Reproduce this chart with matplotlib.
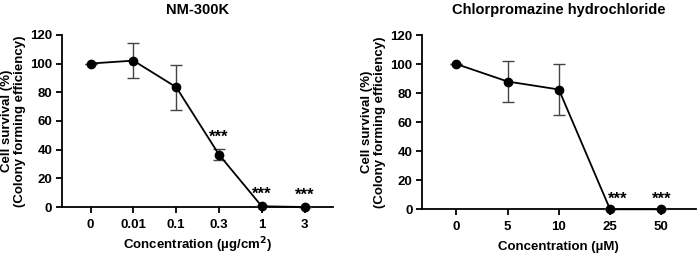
import matplotlib
matplotlib.use("Agg")
import matplotlib.pyplot as plt

plt.rcParams['font.family'] = ['Liberation Sans', 'DejaVu Sans']
plt.rcParams['font.weight'] = 'bold'

left_title = "NM-300K"
left_labels = ["0", "0.01", "0.1", "0.3", "1", "3"]
left_values = [100, 102, 83.5, 36.5, 0.5, 0]
left_errors = [0, 12, 15.8, 4, 0, 0]
left_sig = [None, None, None, "***", "***", "***"]

right_title = "Chlorpromazine hydrochloride"
right_labels = ["0", "5", "10", "25", "50"]
right_values = [100, 88, 82.5, 0, 0]
right_errors = [0, 14, 17.5, 0, 0]
right_sig = [None, None, None, "***", "***"]

ylabel = "Cell survival (%)\n(Colony forming efficiency)"
left_xlabel = "Concentration (µg/cm$^{\\mathbf{2}}$)"
right_xlabel = "Concentration (µM)"

fig = plt.figure(figsize=(6.99, 2.54), dpi=100)
ax1 = fig.add_axes([0.0887, 0.185, 0.388, 0.678])
ax2 = fig.add_axes([0.604, 0.176, 0.391, 0.686])

def draw(ax, title, labels, values, errors, sig, xlabel, star_dx, star_off,
         xlabelpad):
    x = list(range(len(labels)))
    ax.errorbar(x, values, yerr=errors, color='black', ecolor='#444444',
                elinewidth=1.0, capsize=4, capthick=1.0, lw=1.3,
                marker='o', ms=6, zorder=3, clip_on=False)
    for xi, v, e, s, dx in zip(x, values, errors, sig, star_dx):
        if s:
            ax.text(xi + dx, v + e + star_off - 2.6, s, ha='center',
                    va='center', fontsize=12, fontweight='bold')
    ax.set_xlim(-0.67, len(labels) - 1 + 0.67)
    ax.set_ylim(0, 120)
    ax.set_yticks(range(0, 121, 20))
    ax.set_xticks(x)
    ax.set_xticklabels(labels)
    for side in ['top', 'right']:
        ax.spines[side].set_visible(False)
    for side in ['left', 'bottom']:
        ax.spines[side].set_linewidth(1.3)
    ax.tick_params(axis='both', labelsize=9.5, width=1.3, length=4.5, pad=2.5)
    ax.tick_params(axis='x', pad=4)
    for lab in ax.get_xticklabels() + ax.get_yticklabels():
        lab.set_fontweight('bold')
    ax.set_title(title, fontsize=10.5, fontweight='bold', pad=15)
    ax.set_ylabel(ylabel, fontsize=9.5, fontweight='bold', labelpad=3,
                  linespacing=1.15)
    ax.set_xlabel(xlabel, fontsize=9.5, fontweight='bold', labelpad=xlabelpad)

draw(ax1, left_title, left_labels, left_values, left_errors, left_sig,
     left_xlabel, [0, 0, 0, 0, 0, 0], 11, 3)
draw(ax2, right_title, right_labels, right_values, right_errors, right_sig,
     right_xlabel, [0, 0, 0, 0.14, 0], 9.5, 6)

fig.savefig("out.png", dpi=100)
